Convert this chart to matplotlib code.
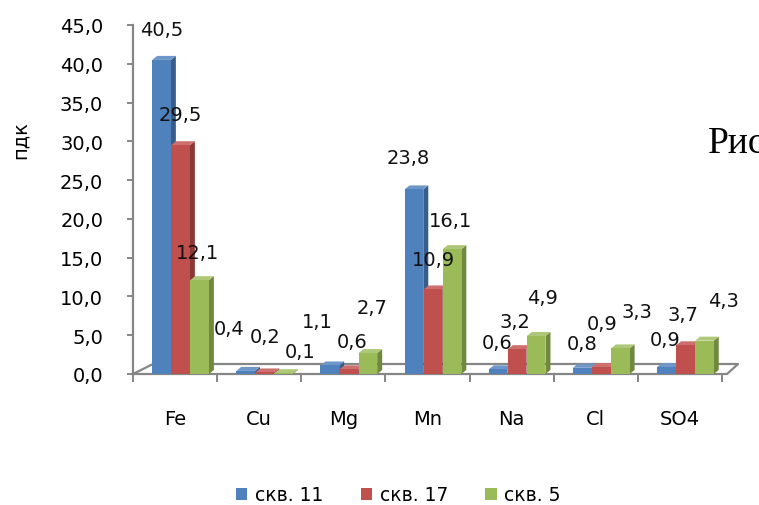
import numpy as np
import matplotlib.pyplot as plt
from matplotlib.patches import Polygon, Patch

# concentrations in units of ПДК per well
elements = ['Fe', 'Cu', 'Mg', 'Mn', 'Na', 'Cl', 'SO4']
series_names = ['скв. 11', 'скв. 17', 'скв. 5']
skv11 = [40.5, 0.4, 1.1, 23.8, 0.6, 0.8, 0.9]
skv17 = [29.5, 0.2, 0.6, 10.9, 3.2, 0.9, 3.7]
skv5 = [12.1, 0.1, 2.7, 16.1, 4.9, 3.3, 4.3]
yticks = np.arange(0, 46, 5)

# front / side / top colours for the pseudo-3D bars
faces = [('#4F81BD', '#385D8A', '#6F96C8'),
         ('#C0504D', '#8C3836', '#CD706D'),
         ('#9BBB59', '#71893F', '#AEC87A')]

# label nudges in pixels (dx, height above the bar top)
label_dx = [[0, 0, -2], [-17, 0, 16], [-12, 3, 4], [-6, 0, -1],
            [-1, -2, 6], [0, 1, 17], [-1, -2, 19]]
label_gap = [[30, 31, 28], [42, 36, 22], [44, 28, 46], [32, 30, 29],
             [27, 28, 38], [24, 44, 37], [28, 31, 40]]

W, H = 759, 506
fig = plt.figure(figsize=(W / 100, H / 100), dpi=100)
ax = fig.add_axes([133 / W, (H - 375) / H, (722 - 133) / W, (375 - 26) / H])
ax.set_xlim(-0.5, 6.5)
ax.set_ylim(0, 45)

gray = '#868686'
font = 14
px_x = (722 - 133) / 7.0      # pixels per category
px_y = (375 - 26) / 45.0      # pixels per unit

bw = 0.222
step = 0.226
shift = 0.065
ddx = 5 / px_x
ddy = 4 / px_y

x = np.arange(len(elements))
for i, vals in enumerate([skv11, skv17, skv5]):
    front, side, top = faces[i]
    xc = x + shift + (i - 1) * step
    z = 3 + i
    ax.bar(xc, vals, width=bw, color=front, zorder=z, linewidth=0)
    for j, (cx, v) in enumerate(zip(xc, vals)):
        r = cx + bw / 2
        l = cx - bw / 2
        ax.add_patch(Polygon([(r, 0), (r + ddx, ddy), (r + ddx, v + ddy), (r, v)],
                             closed=True, facecolor=side, edgecolor='none',
                             zorder=z - 0.5, clip_on=False))
        ax.add_patch(Polygon([(l, v), (r, v), (r + ddx, v + ddy), (l + ddx, v + ddy)],
                             closed=True, facecolor=top, edgecolor='none',
                             zorder=z - 0.5, clip_on=False))
        ax.annotate(f'{v:.1f}'.replace('.', ','), xy=(cx, v),
                    xytext=(label_dx[j][i], label_gap[j][i]),
                    textcoords='offset pixels', ha='center', va='center',
                    fontsize=font, color='#111111', zorder=10,
                    annotation_clip=False)

# floor of the chart
fx = [-0.5, -0.5 + 20 / px_x, 6.56 + 11 / px_x, 6.56, -0.5]
fy = [0, 10 / px_y, 10 / px_y, 0, 0]
ax.plot(fx, fy, color=gray, lw=1.6, zorder=1, clip_on=False)

for s in ['top', 'right', 'bottom']:
    ax.spines[s].set_visible(False)
ax.spines['left'].set_color(gray)
ax.spines['left'].set_linewidth(1.6)

ax.set_yticks(yticks)
ax.set_yticklabels([f'{t:.1f}'.replace('.', ',') for t in yticks], fontsize=font)
ax.tick_params(axis='y', length=4.5, width=1.4, color=gray, pad=17)

ax.set_xticks(x)
ax.set_xticklabels(elements, fontsize=font)
ax.set_xticks(np.arange(-0.5, 7, 1), minor=True)
ax.tick_params(axis='x', which='major', length=0, pad=25)
ax.tick_params(axis='x', which='minor', length=6, width=1.4, color=gray)

fig.text(20 / W, 1 - 140 / H, 'пдк', rotation=90, ha='center', va='center',
         fontsize=font)
# caption of the page behind the chart, running off the right edge
fig.text(708 / W, 1 - 153 / H, 'Рис', ha='left', va='baseline',
         fontsize=27, family='Liberation Serif')

handles = [Patch(facecolor=f[0], edgecolor='none') for f in faces]
fig.legend(handles, series_names, loc='center', bbox_to_anchor=(0.525, 0.02),
           ncol=3, frameon=False, fontsize=13.5, handlelength=0.6,
           handleheight=0.6, handletextpad=0.4, columnspacing=2.0)

fig.savefig('out.png', dpi=100)
